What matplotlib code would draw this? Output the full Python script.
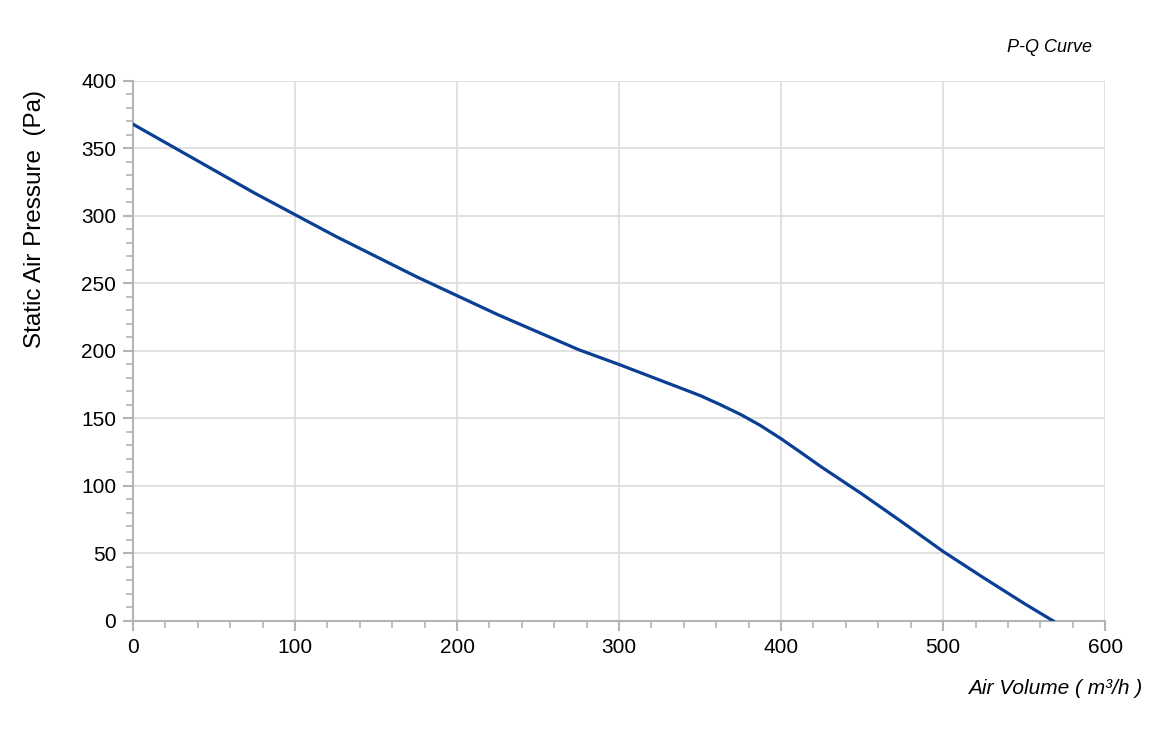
import numpy as np
import matplotlib.pyplot as plt
from matplotlib.ticker import MultipleLocator

# P-Q curve
air_volume = [0, 25, 50, 75, 100, 125, 150, 175, 200, 225, 250, 275, 300,
              325, 337, 350, 362, 375, 387, 400, 412, 425, 450, 475, 500,
              525, 550, 568]
pressure = [368, 351, 334, 317, 301, 285, 270, 255, 241, 227, 214, 201, 190,
            178.5, 173, 167, 160.5, 153, 145, 135, 125, 114, 94, 73, 51.5,
            32, 13, 0]

plt.rcParams['font.family'] = ['Liberation Sans', 'DejaVu Sans']

fig = plt.figure(figsize=(11.56, 7.47), dpi=100)
ax = fig.add_axes([0.115, 0.1687, 0.841, 0.7229])

ax.plot(air_volume, pressure, color='#0b3f95', lw=2.3, zorder=3)

ax.set_xlim(0, 600)
ax.set_ylim(0, 400)
ax.xaxis.set_major_locator(MultipleLocator(100))
ax.xaxis.set_minor_locator(MultipleLocator(20))
ax.yaxis.set_major_locator(MultipleLocator(50))
ax.yaxis.set_minor_locator(MultipleLocator(10))

ax.grid(True, which='major', color='#dcdcdc', lw=1.2)
ax.set_axisbelow(True)
for s in ['top', 'right']:
    ax.spines[s].set_visible(False)
for s in ['left', 'bottom']:
    ax.spines[s].set_color('#b4b4b4')
    ax.spines[s].set_linewidth(1.5)

ax.tick_params(which='major', length=7, width=1.5, color='#b4b4b4', labelsize=15, labelcolor='black', pad=5)
ax.tick_params(which='minor', length=5, width=1.2, color='#b4b4b4')

# y label sits high, not centred on the axis
fig.text(35/1156, 1 - 219/747, 'Static Air Pressure  (Pa)', fontsize=17.5,
         rotation=90, ha='center', va='center')
fig.text(1142/1156, 1 - 688/747, 'Air Volume ( m³/h )', fontsize=15, style='italic',
         ha='right', va='center')
fig.text(1092/1156, 1 - 47/747, 'P-Q Curve', fontsize=13, style='italic',
         ha='right', va='center')

fig.savefig('out.png', dpi=100)
